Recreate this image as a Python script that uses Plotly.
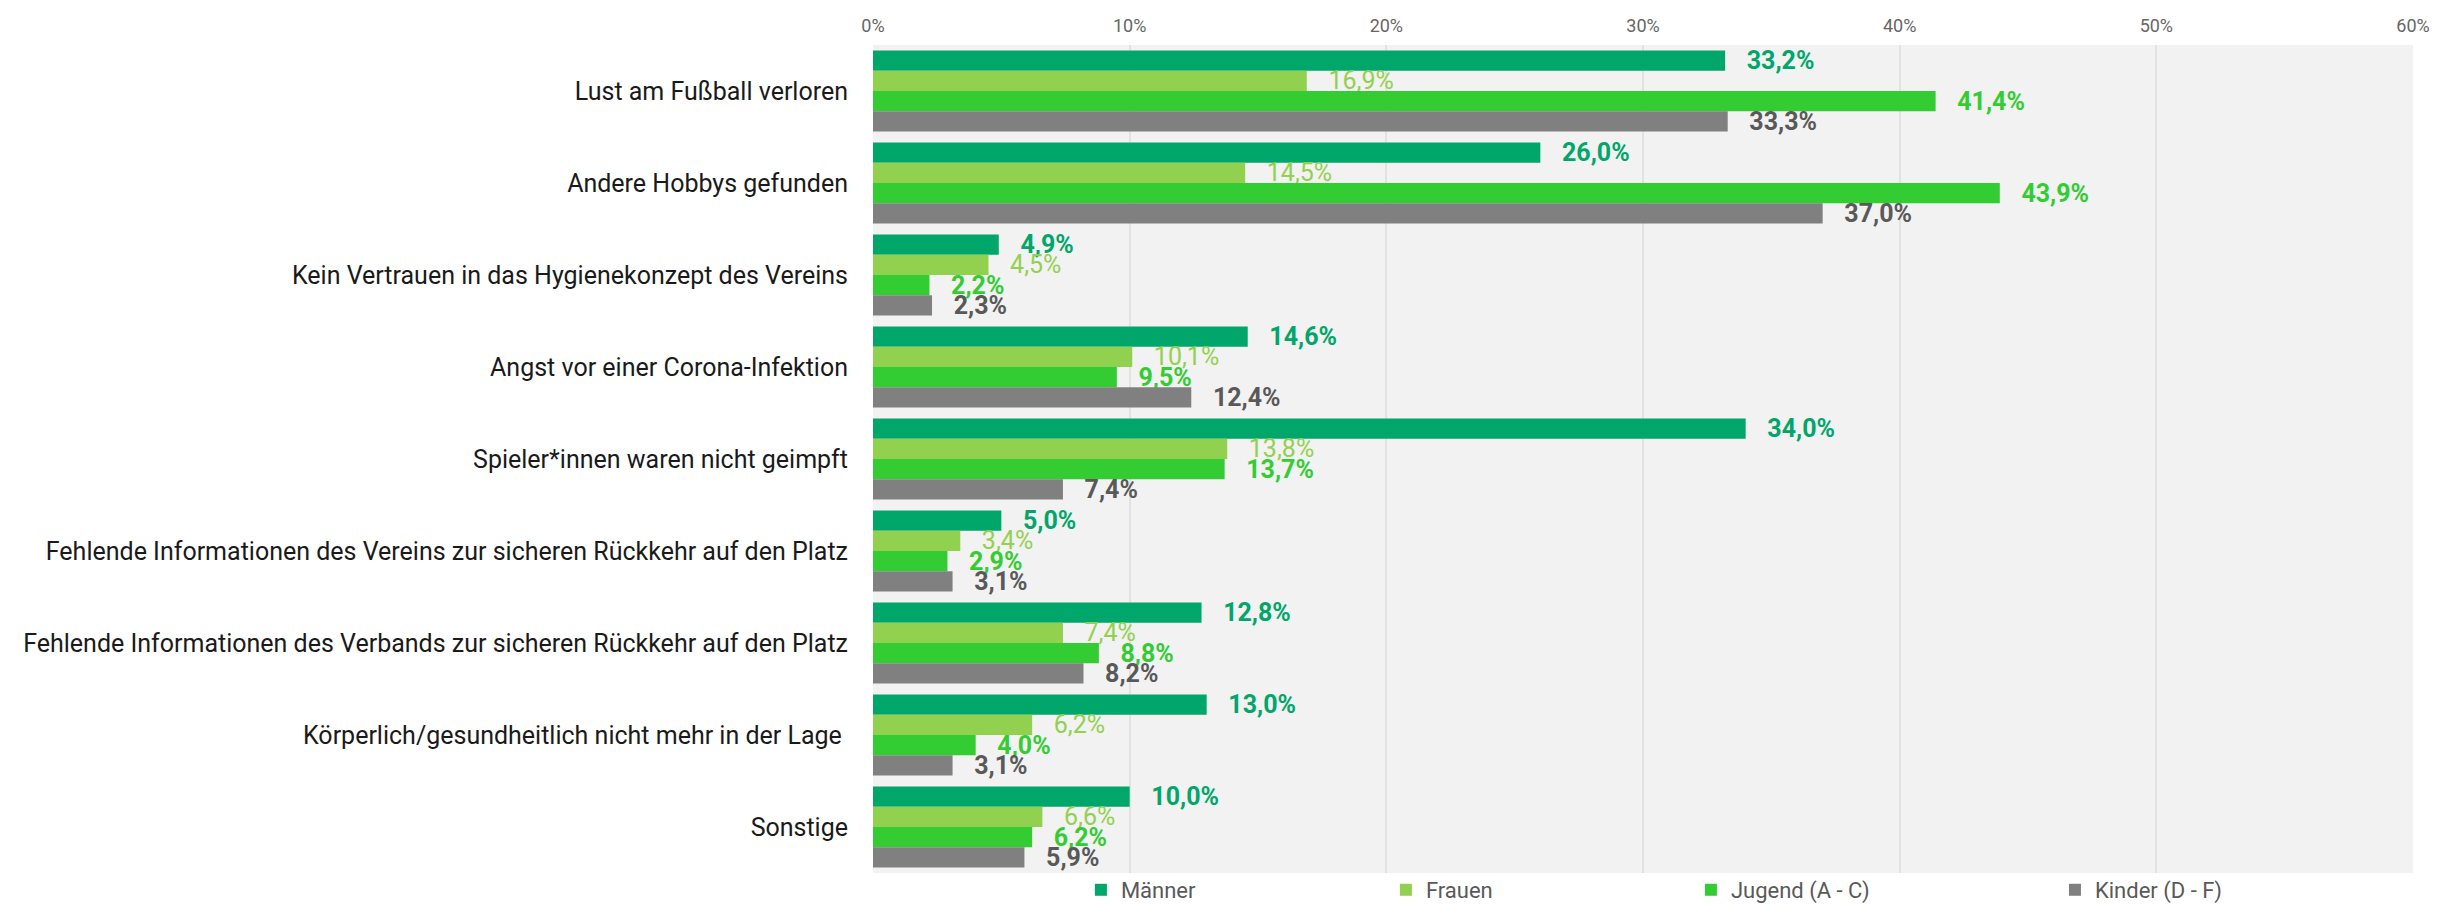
import plotly.graph_objects as go

categories = [
    "Lust am Fußball verloren",
    "Andere Hobbys gefunden",
    "Kein Vertrauen in das Hygienekonzept des Vereins",
    "Angst vor einer Corona-Infektion",
    "Spieler*innen waren nicht geimpft",
    "Fehlende Informationen des Vereins zur sicheren Rückkehr auf den Platz",
    "Fehlende Informationen des Verbands zur sicheren Rückkehr auf den Platz",
    "Körperlich/gesundheitlich nicht mehr in der Lage ",
    "Sonstige",
]
maenner = [33.2, 26.0, 4.9, 14.6, 34.0, 5.0, 12.8, 13.0, 10.0]
frauen = [16.9, 14.5, 4.5, 10.1, 13.8, 3.4, 7.4, 6.2, 6.6]
jugend = [41.4, 43.9, 2.2, 9.5, 13.7, 2.9, 8.8, 4.0, 6.2]
kinder = [33.3, 37.0, 2.3, 12.4, 7.4, 3.1, 8.2, 3.1, 5.9]
series_names = ["Männer", "Frauen", "Jugend (A - C)", "Kinder (D - F)"]
x_ticks = [0, 10, 20, 30, 40, 50, 60]

bar_colors = ["#00A66A", "#92D050", "#33CC33", "#808080"]
text_colors = ["#00A66A", "#92D050", "#33CC33", "#595959"]
text_weights = ["bold", "normal", "bold", "bold"]
legend_ids = ["legend", "legend", "legend", "legend2"]

FONT = "Roboto, Open Sans, sans-serif"

fig = go.Figure()
for name, vals, bc, tc, tw, lg in zip(series_names, [maenner, frauen, jugend, kinder],
                                      bar_colors, text_colors, text_weights, legend_ids):
    fig.add_trace(go.Bar(
        y=categories, x=vals, name=name, orientation="h",
        marker=dict(color=bc, line=dict(width=0)),
        text=["   " + f"{v:.1f}".replace(".", ",") + "%" for v in vals],
        textposition="outside",
        constraintext="none",
        cliponaxis=False,
        textfont=dict(family=FONT, size=25, color=tc, weight=tw),
        hoverinfo="skip",
        legend=lg,
    ))

legend_style = dict(
    orientation="h", y=-0.0205, xanchor="left", yanchor="middle",
    font=dict(family=FONT, size=22, color="#595959"),
    entrywidth=260, traceorder="normal",
    bgcolor="rgba(0,0,0,0)",
)

fig.update_layout(
    width=2456, height=904,
    margin=dict(l=873, r=43, t=45, b=31, autoexpand=False),
    paper_bgcolor="white",
    plot_bgcolor="#F2F2F2",
    barmode="group",
    bargap=0.12,
    bargroupgap=0,
    font=dict(family=FONT),
    legend=dict(x=0.135, **legend_style),
    legend2=dict(x=0.7675, **legend_style),
    showlegend=True,
)
fig.update_xaxes(
    side="top", range=[0, 60], tickvals=x_ticks,
    ticktext=[f"{t}%" for t in x_ticks],
    showgrid=True, gridcolor="#E2E2E2", gridwidth=1.5,
    zeroline=False, showline=False, automargin=False,
    tickfont=dict(family=FONT, size=18, color="#666666"),
    ticks="", ticklabelstandoff=8,
)
fig.update_yaxes(
    autorange="reversed", automargin=False,
    showgrid=False, zeroline=False, showline=False,
    tickfont=dict(family=FONT, size=25, color="#1A1A1A"),
    ticks="", ticklabelstandoff=24,
)

fig.write_html(
    "out.html",
    config={"displayModeBar": False},
    post_script="document.body.style.margin='0';document.body.style.overflow='hidden';",
)
